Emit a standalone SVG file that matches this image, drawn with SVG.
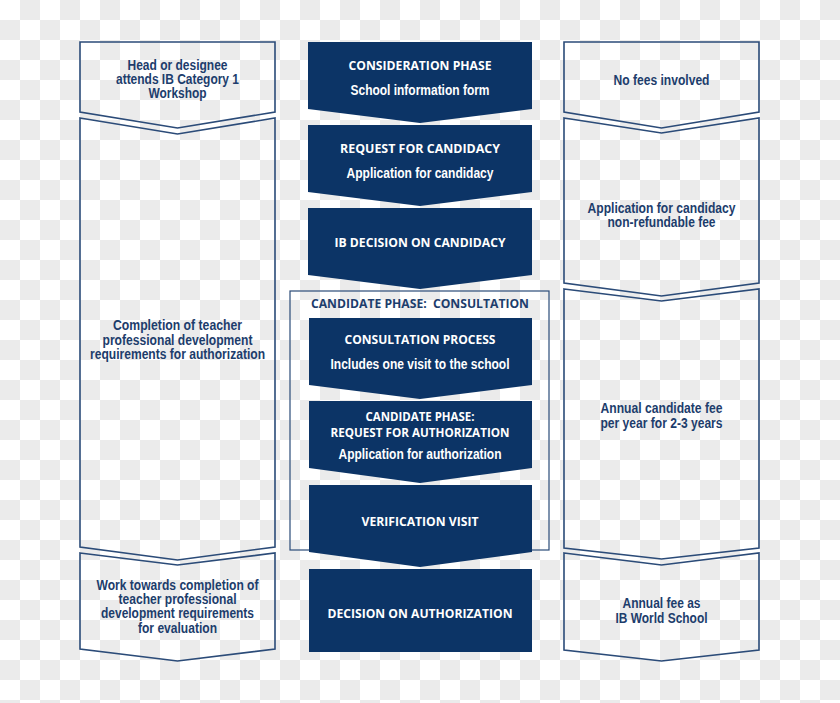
<svg xmlns="http://www.w3.org/2000/svg" width="840" height="703" viewBox="0 0 840 703">
<defs>
<pattern id="chk" x="0" y="0" width="40" height="40" patternUnits="userSpaceOnUse">
<rect width="40" height="40" fill="#ffffff"/>
<rect x="20" y="0" width="20" height="20" fill="#ebebeb"/>
<rect x="0" y="20" width="20" height="20" fill="#ebebeb"/>
</pattern>
<style>
.ob{fill:none;stroke:#2b4b78;stroke-width:1.6;stroke-linejoin:miter}
.fb{fill:#0c3466;stroke:none}
.fr{fill:none;stroke:#2b4b78;stroke-width:1.2}
.ot{font-family:"Liberation Sans",Arial,sans-serif;font-weight:700;font-size:13.8px;fill:#1d3d6c;text-anchor:middle}
.wt{font-family:"Open Sans","Liberation Sans",sans-serif;font-weight:700;font-size:12px;fill:#ffffff;text-anchor:middle}
.ws{font-family:"Liberation Sans",Arial,sans-serif;font-weight:700;font-size:14px;fill:#ffffff;text-anchor:middle}
.ft{font-family:"Open Sans","Liberation Sans",sans-serif;font-weight:700;font-size:12px;fill:#1d3d6c;text-anchor:middle;white-space:pre}
</style>
</defs>
<rect width="840" height="703" fill="url(#chk)"/>

<g id="frame-consultation">
<rect class="fr" x="290" y="291" width="259" height="259"/>
<text class="ft" x="420" y="308" textLength="218" lengthAdjust="spacingAndGlyphs" xml:space="preserve">CANDIDATE PHASE:  CONSULTATION</text>
</g>

<g id="left-1">
<path class="ob" d="M80,42 H275 V112 L177.5,128 L80,112 Z"/>
<text class="ot" x="177.5" y="70" textLength="100" lengthAdjust="spacingAndGlyphs">Head or designee</text>
<text class="ot" x="177.5" y="84" textLength="123" lengthAdjust="spacingAndGlyphs">attends IB Category 1</text>
<text class="ot" x="177.5" y="98" textLength="58" lengthAdjust="spacingAndGlyphs">Workshop</text>
</g>
<g id="left-2">
<path class="ob" d="M80,118 L177.5,134 L275,118 V547 L177.5,560 L80,547 Z"/>
<text class="ot" x="177.5" y="330" textLength="129" lengthAdjust="spacingAndGlyphs">Completion of teacher</text>
<text class="ot" x="177.5" y="345" textLength="150" lengthAdjust="spacingAndGlyphs">professional development</text>
<text class="ot" x="177.5" y="359" textLength="175" lengthAdjust="spacingAndGlyphs">requirements for authorization</text>
</g>
<g id="left-3">
<path class="ob" d="M80,553 L177.5,565 L275,553 V649 L177.5,661 L80,649 Z"/>
<text class="ot" x="177.5" y="590" textLength="162" lengthAdjust="spacingAndGlyphs">Work towards completion of</text>
<text class="ot" x="177.5" y="604" textLength="118" lengthAdjust="spacingAndGlyphs">teacher professional</text>
<text class="ot" x="177.5" y="618" textLength="153" lengthAdjust="spacingAndGlyphs">development requirements</text>
<text class="ot" x="177.5" y="633" textLength="79" lengthAdjust="spacingAndGlyphs">for evaluation</text>
</g>

<g id="center-1">
<path class="fb" d="M308,42 H532 V109 L420,123 L308,109 Z"/>
<text class="wt" x="420" y="70" textLength="143" lengthAdjust="spacingAndGlyphs">CONSIDERATION PHASE</text>
<text class="ws" x="420" y="95" textLength="139" lengthAdjust="spacingAndGlyphs">School information form</text>
</g>
<g id="center-2">
<path class="fb" d="M308,125 H532 V192 L420,206 L308,192 Z"/>
<text class="wt" x="420" y="153" textLength="160" lengthAdjust="spacingAndGlyphs">REQUEST FOR CANDIDACY</text>
<text class="ws" x="420" y="178" textLength="147" lengthAdjust="spacingAndGlyphs">Application for candidacy</text>
</g>
<g id="center-3">
<path class="fb" d="M308,208 H532 V275 L420,289 L308,275 Z"/>
<text class="wt" x="420" y="247" textLength="171" lengthAdjust="spacingAndGlyphs">IB DECISION ON CANDIDACY</text>
</g>
<g id="center-4">
<path class="fb" d="M309,318 H532 V385 L420,399 L309,385 Z"/>
<text class="wt" x="420" y="344" textLength="151" lengthAdjust="spacingAndGlyphs">CONSULTATION PROCESS</text>
<text class="ws" x="420" y="369" textLength="179" lengthAdjust="spacingAndGlyphs">Includes one visit to the school</text>
</g>
<g id="center-5">
<path class="fb" d="M309,401 H532 V468 L420,483 L309,468 Z"/>
<text class="wt" x="420" y="421" textLength="109" lengthAdjust="spacingAndGlyphs">CANDIDATE PHASE:</text>
<text class="wt" x="420" y="437" textLength="179" lengthAdjust="spacingAndGlyphs">REQUEST FOR AUTHORIZATION</text>
<text class="ws" x="420" y="459" textLength="163" lengthAdjust="spacingAndGlyphs">Application for authorization</text>
</g>
<g id="center-6">
<path class="fb" d="M309,485 H532 V552 L420,567 L309,552 Z"/>
<text class="wt" x="420" y="526" textLength="117" lengthAdjust="spacingAndGlyphs">VERIFICATION VISIT</text>
</g>
<g id="center-7">
<rect class="fb" x="309" y="569" width="223" height="83"/>
<text class="wt" x="420" y="618" textLength="185" lengthAdjust="spacingAndGlyphs">DECISION ON AUTHORIZATION</text>
</g>

<g id="right-1">
<path class="ob" d="M564,42 H759 V112 L661.5,128 L564,112 Z"/>
<text class="ot" x="661.5" y="85" textLength="96" lengthAdjust="spacingAndGlyphs">No fees involved</text>
</g>
<g id="right-2">
<path class="ob" d="M564,118 L661.5,133 L759,118 V283 L661.5,296 L564,283 Z"/>
<text class="ot" x="661.5" y="213" textLength="148" lengthAdjust="spacingAndGlyphs">Application for candidacy</text>
<text class="ot" x="661.5" y="227" textLength="108" lengthAdjust="spacingAndGlyphs">non-refundable fee</text>
</g>
<g id="right-3">
<path class="ob" d="M564,289 L661.5,301 L759,289 V548 L661.5,559 L564,548 Z"/>
<text class="ot" x="661.5" y="413" textLength="122" lengthAdjust="spacingAndGlyphs">Annual candidate fee</text>
<text class="ot" x="661.5" y="428" textLength="122" lengthAdjust="spacingAndGlyphs">per year for 2-3 years</text>
</g>
<g id="right-4">
<path class="ob" d="M564,553 L661.5,565 L759,553 V650 L661.5,661 L564,650 Z"/>
<text class="ot" x="661.5" y="608" textLength="78" lengthAdjust="spacingAndGlyphs">Annual fee as</text>
<text class="ot" x="661.5" y="623" textLength="92" lengthAdjust="spacingAndGlyphs">IB World School</text>
</g>

<g id="connectors"></g>
</svg>
